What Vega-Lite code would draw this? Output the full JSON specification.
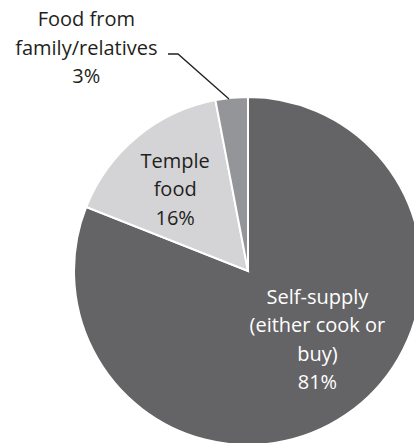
{
  "$schema": "https://vega.github.io/schema/vega-lite/v6.json",
  "autosize": "none",
  "width": 332,
  "height": 342,
  "padding": {"left": 82, "top": 100, "right": 0, "bottom": 1},
  "background": "white",
  "config": {"view": {"stroke": null}},
  "datasets": {
    "slices": [
      {"category": "Self-supply", "label": "Self-supply\n(either cook or\nbuy)\n81%", "value": 81, "rank": 1},
      {"category": "Temple food", "label": "Temple\nfood\n16%", "value": 16, "rank": 2},
      {"category": "Food from family/relatives", "label": "Food from\nfamily/relatives\n3%", "value": 3, "rank": 3}
    ],
    "leader": [
      {"px": -80, "py": 217, "step": 1},
      {"px": -70, "py": 217, "step": 2},
      {"px": -19, "py": 172, "step": 3}
    ]
  },
  "layer": [
    {
      "data": {"name": "slices"},
      "mark": {"type": "arc", "radius": 174, "stroke": "white", "strokeWidth": 2},
      "encoding": {
        "theta": {"field": "value", "type": "quantitative", "stack": true},
        "order": {"field": "rank", "type": "quantitative"},
        "color": {
          "field": "category",
          "type": "nominal",
          "scale": {
            "domain": ["Self-supply", "Temple food", "Food from family/relatives"],
            "range": ["#646466", "#d4d4d6", "#949599"]
          },
          "legend": null
        }
      }
    },
    {
      "data": {"name": "slices"},
      "mark": {
        "type": "text",
        "font": "Open Sans",
        "fontSize": 20,
        "lineHeight": 28.5,
        "lineBreak": "\n",
        "align": "center",
        "baseline": "middle",
        "fill": {"expr": "datum.rank == 1 ? 'white' : '#231f20'"},
        "radius": {"expr": "datum.rank == 1 ? 95 : datum.rank == 2 ? 108 : 230"},
        "dx": {"expr": "datum.rank == 1 ? 16 : datum.rank == 2 ? -4 : -140"},
        "dy": {"expr": "datum.rank == 1 ? -52 : datum.rank == 2 ? -26 : -22"}
      },
      "encoding": {
        "theta": {"field": "value", "type": "quantitative", "stack": true},
        "order": {"field": "rank", "type": "quantitative"},
        "text": {"field": "label"}
      }
    },
    {
      "data": {"name": "leader"},
      "mark": {"type": "line", "color": "#231f20", "strokeWidth": 1.3},
      "encoding": {
        "x": {"field": "px", "type": "quantitative", "scale": {"domain": [-166, 166], "nice": false, "zero": false}, "axis": null},
        "y": {"field": "py", "type": "quantitative", "scale": {"domain": [-171, 171], "nice": false, "zero": false}, "axis": null},
        "order": {"field": "step", "type": "quantitative"}
      }
    }
  ]
}
